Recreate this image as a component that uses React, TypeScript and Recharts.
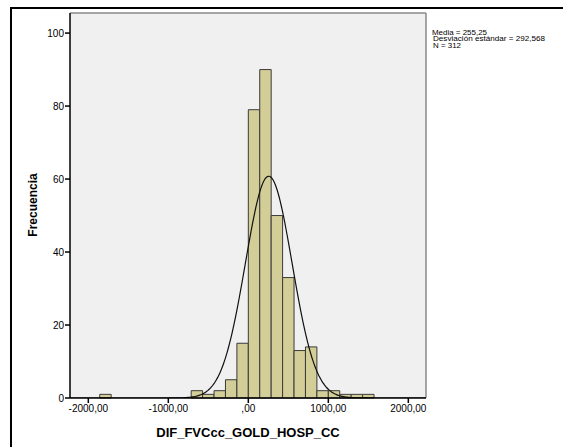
import React from 'react';
import {
  ComposedChart,
  Line,
  XAxis,
  YAxis,
  CartesianGrid,
  ReferenceArea,
  ReferenceLine,
  Label,
} from 'recharts';

// Histogram bins (lower edges) and their frequencies
const BIN_WIDTH = 1000 / 7;
const binStarts = [
  -1857.14, -714.29, -571.43, -428.57, -285.71, -142.86, 0, 142.86, 285.71,
  428.57, 571.43, 714.29, 857.14, 1000, 1142.86, 1285.71, 1428.57,
];
const binCounts = [1, 2, 1, 2, 5, 15, 79, 90, 50, 33, 13, 14, 2, 2, 1, 1, 1];

// Summary statistics shown in the chart
const MEAN = 255.25;
const SD = 292.568;
const N = 312;
const statLines = [
  'Media = 255,25',
  'Desviación estándar = 292,568',
  'N = 312',
];
const statWidths = [55, 112, 28];

const xTicks = [-2000, -1000, 0, 1000, 2000];
const xTickLabels = ['-2000,00', '-1000,00', ',00', '1000,00', '2000,00'];
const yTicks = [0, 20, 40, 60, 80, 100];

const X_MIN = -2229;
const X_MAX = 2221;
const Y_MAX = 105.5;

// Fitted normal curve from the stated mean / SD / N
const curveXs: number[] = [];
for (let x = X_MIN; x <= X_MAX; x += 15) curveXs.push(x);
const curveData = curveXs.map((x) => ({
  x,
  y:
    ((N * BIN_WIDTH) / (SD * Math.sqrt(2 * Math.PI))) *
    Math.exp(-((x - MEAN) ** 2) / (2 * SD * SD)),
}));

const FONT = '"Liberation Sans", Arial, sans-serif';

export default function App() {
  return (
    <div
      style={{
        position: 'absolute',
        left: 0,
        top: 0,
        width: 563,
        height: 447,
        background: '#fff',
        fontFamily: FONT,
      }}
    >
      <div
        style={{
          position: 'absolute',
          left: 10,
          top: 7,
          width: 553,
          height: 440,
          borderTop: '2px solid #000',
          borderLeft: '2px solid #000',
          boxSizing: 'border-box',
        }}
      />
      <div style={{ position: 'absolute', left: 0, top: 0 }}>
        <ComposedChart
          width={563}
          height={447}
          data={curveData}
          margin={{ top: 13, right: 137, bottom: 19, left: 20 }}
        >
          <CartesianGrid
            horizontal={false}
            vertical={false}
            fill="#F0F0F0"
            fillOpacity={1}
          />
          <XAxis
            dataKey="x"
            type="number"
            domain={[X_MIN, X_MAX]}
            ticks={xTicks}
            tickFormatter={(v: number) => xTickLabels[xTicks.indexOf(v)]}
            allowDataOverflow
            height={30}
            tickSize={5}
            tickMargin={2}
            axisLine={{ stroke: '#000', strokeWidth: 1.5 }}
            tickLine={{ stroke: '#000', strokeWidth: 1.5 }}
            tick={{ fill: '#000', fontSize: 10, fontFamily: FONT }}
          >
            <Label
              value="DIF_FVCcc_GOLD_HOSP_CC"
              position="bottom"
              offset={0}
              style={{ fontSize: 13, fontWeight: 'bold', fill: '#000', fontFamily: FONT }}
            />
          </XAxis>
          <YAxis
            type="number"
            domain={[0, Y_MAX]}
            ticks={yTicks}
            allowDataOverflow
            width={50}
            tickSize={5}
            tickMargin={1}
            axisLine={{ stroke: '#000', strokeWidth: 1.5 }}
            tickLine={{ stroke: '#000', strokeWidth: 1.5 }}
            tick={{ fill: '#000', fontSize: 10, fontFamily: FONT }}
          />
          <ReferenceLine y={Y_MAX} stroke="#8a8a8a" strokeWidth={1.5} ifOverflow="visible" />
          <ReferenceLine x={X_MAX} stroke="#8a8a8a" strokeWidth={1.5} ifOverflow="visible" />
          {binStarts.map((s, i) => (
            <ReferenceArea
              key={i}
              x1={s}
              x2={s + BIN_WIDTH}
              y1={0}
              y2={binCounts[i]}
              fill="#D3CE97"
              fillOpacity={1}
              stroke="#3a3a3a"
              strokeWidth={1}
              ifOverflow="visible"
            />
          ))}
          <Line
            dataKey="y"
            type="monotone"
            stroke="#111"
            strokeWidth={1.2}
            dot={false}
            activeDot={false}
            isAnimationActive={false}
          />
        </ComposedChart>
      </div>
      <svg
        width={563}
        height={447}
        style={{ position: 'absolute', left: 0, top: 0, pointerEvents: 'none' }}
      >
        <text
          x={37}
          y={205}
          transform="rotate(-90 37 205)"
          textAnchor="middle"
          fontSize={12}
          fontWeight="bold"
          fontFamily={FONT}
          fill="#000"
        >
          Frecuencia
        </text>
        {statLines.map((t, i) => (
          <text
            key={i}
            x={i === 0 ? 432 : 433}
            y={34.5 + i * 6.8}
            fontSize={6.5}
            fontFamily={FONT}
            fill="#000"
            textLength={statWidths[i]}
            lengthAdjust="spacingAndGlyphs"
          >
            {t}
          </text>
        ))}
      </svg>
    </div>
  );
}
